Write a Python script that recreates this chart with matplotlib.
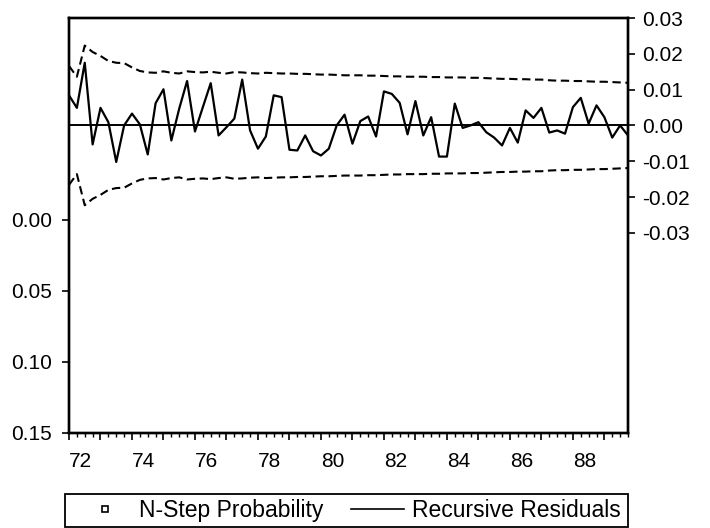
import numpy as np
import pandas as pd
import matplotlib
matplotlib.use("Agg")
from matplotlib import pyplot as plt
from matplotlib.lines import Line2D
from matplotlib.patches import Rectangle

plt.rcParams['font.family'] = ['Liberation Sans', 'DejaVu Sans']

# quarterly sample 1972Q1 - 1989Q4
quarters = pd.period_range("1972Q1", "1989Q4", freq="Q")

# recursive residuals
residuals = [0.0084, 0.0049, 0.0175, -0.0053, 0.0049, 0.0009, -0.0102, 0.0000,
             0.0033, 0.0003, -0.0081, 0.0062, 0.0101, -0.0042, 0.0047, 0.0124,
             -0.0017, 0.0051, 0.0118, -0.0028, -0.0005, 0.0019, 0.0128, -0.0014,
             -0.0065, -0.0031, 0.0084, 0.0079, -0.0068, -0.0070, -0.0028, -0.0072,
             -0.0084, -0.0065, 0.0000, 0.0030, -0.0051, 0.0012, 0.0025, -0.0031,
             0.0095, 0.0088, 0.0063, -0.0025, 0.0068, -0.0028, 0.0023, -0.0087,
             -0.0087, 0.0061, -0.0007, 0.0000, 0.0009, -0.0019, -0.0034, -0.0056,
             -0.0007, -0.0048, 0.0042, 0.0021, 0.0049, -0.0020, -0.0014, -0.0023,
             0.0051, 0.0077, 0.0005, 0.0056, 0.0023, -0.0034, 0.0000, -0.0028]

# two standard error band (+/-)
two_se = [0.0166, 0.0136, 0.0223, 0.0205, 0.0194, 0.0180, 0.0175, 0.0174,
          0.0162, 0.0152, 0.0148, 0.0147, 0.0151, 0.0147, 0.0145, 0.0151,
          0.0149, 0.0148, 0.0150, 0.0147, 0.0145, 0.0149, 0.0148, 0.0146,
          0.0145, 0.0147, 0.0146, 0.0145, 0.0145, 0.0144, 0.0144, 0.0143,
          0.0142, 0.0142, 0.0141, 0.0140, 0.0140, 0.0140, 0.0139, 0.0139,
          0.0138, 0.0137, 0.0137, 0.0136, 0.0136, 0.0136, 0.0135, 0.0135,
          0.0134, 0.0134, 0.0134, 0.0133, 0.0133, 0.0132, 0.0131, 0.0130,
          0.0130, 0.0129, 0.0129, 0.0128, 0.0128, 0.0126, 0.0125, 0.0125,
          0.0124, 0.0124, 0.0123, 0.0122, 0.0122, 0.0121, 0.0120, 0.0119]

prob_ticks = [0.00, 0.05, 0.10, 0.15]
resid_ticks = [-0.03, -0.02, -0.01, 0.00, 0.01, 0.02, 0.03]
year_labels = ["72", "", "74", "", "76", "", "78", "", "80", "", "82", "", "84", "", "86", "", "88", ""]

x = np.array([q.year - 1900 + (q.quarter - 1) / 4 for q in quarters])
resid = np.array(residuals)
band = np.array(two_se)

fig = plt.figure(figsize=(7.1, 5.28), dpi=100)
ax = fig.add_axes([69 / 710, 1 - 433 / 528, 559 / 710, 415 / 528])
ax2 = ax.twinx()

# left axis: N-step probability (inverted, no points fall in range)
ax.set_ylim(0.15, -0.1417)
ax.set_yticks(prob_ticks)
ax.set_yticklabels(["%.2f" % v for v in prob_ticks])

# right axis: residuals with +/- 2 S.E.
ax2.plot(x, resid, color="black", lw=1.6, zorder=3)
ax2.plot(x, band, color="black", lw=1.5, ls=(0, (4, 2.2)))
ax2.plot(x, -band, color="black", lw=1.5, ls=(0, (4, 2.2)))
ax2.axhline(0, color="black", lw=1.4)
ax2.set_ylim(-0.0859, 0.0299)
ax2.set_yticks(resid_ticks)
ax2.set_yticklabels(["%.2f" % v for v in resid_ticks])

ax.set_xlim(72, 89.75)
ax.set_xticks(np.arange(72, 90))
ax.set_xticklabels(year_labels)
ax.set_xticks(x, minor=True)

for a in (ax, ax2):
    for sp in a.spines.values():
        sp.set_linewidth(1.7)
ax.tick_params(axis="y", direction="out", length=5, width=1.2, labelsize=15, pad=7.5)
ax2.tick_params(axis="y", direction="out", length=5, width=1.2, labelsize=15, pad=5)
ax.tick_params(axis="x", which="major", direction="out", length=5, width=1.2, labelsize=15, pad=8.5)
ax.tick_params(axis="x", which="minor", direction="out", length=3, width=1)
for lab in ax.get_xticklabels():
    lab.set_horizontalalignment("left")

# legend below the plot, boxed
box = Rectangle((65 / 710, 1 - 527 / 528), 563 / 710, 33 / 528, transform=fig.transFigure,
                fill=False, edgecolor="black", lw=1.3)
fig.patches.append(box)
handles = [Line2D([], [], ls="none", marker="s", markersize=4, markerfacecolor="white",
                  markeredgecolor="black", markeredgewidth=1.2),
           Line2D([], [], color="black", lw=1.2)]
fig.legend(handles, ["N-Step Probability", "Recursive Residuals"], ncol=2,
           loc="center", bbox_to_anchor=(349.5 / 710, 1 - 510.5 / 528),
           fontsize=16.5, frameon=False, borderpad=0, handlelength=2.3,
           handletextpad=0.35, columnspacing=1.2, borderaxespad=0)

plt.savefig("out.png", dpi=100)
